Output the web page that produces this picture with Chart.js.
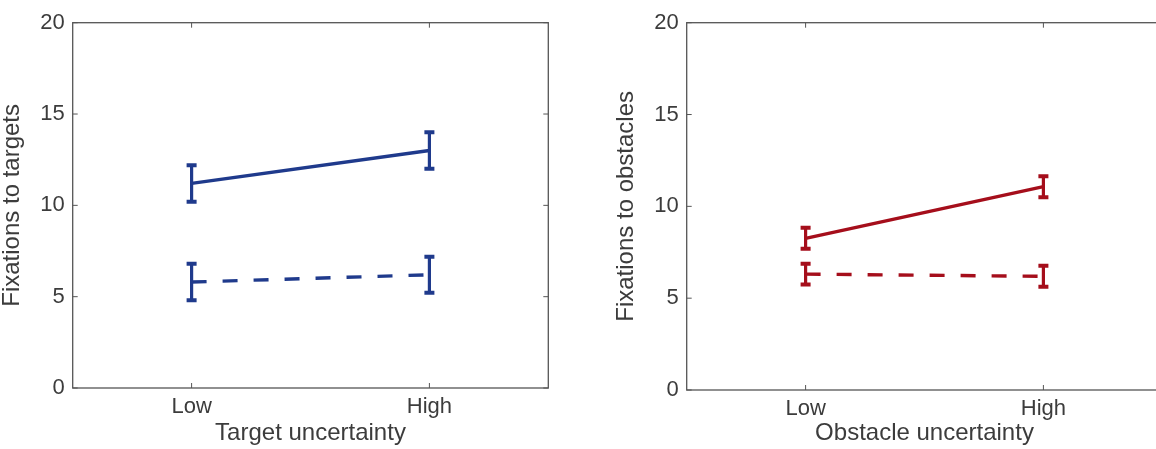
<!DOCTYPE html>
<html><head><meta charset="utf-8">
<script src="https://cdn.jsdelivr.net/npm/chart.js@4.4.0/dist/chart.umd.min.js"></script>
<style>
html,body{margin:0;padding:0;width:1156px;height:449px;overflow:hidden;background:#fff;}
.clip{position:absolute;top:0;left:0;width:1156px;height:449px;overflow:hidden;}
.wrap{position:absolute;top:0;height:449px;width:578px;}
</style></head><body>
<div class="clip">
<div class="wrap" style="left:0"><canvas id="c1"></canvas></div>
<div class="wrap" style="left:614px"><canvas id="c2"></canvas></div>
</div>
<script>
// ---- data ----
const categories = ['Low', 'High'];
const yTicks = [0, 5, 10, 15, 20];
const targetSolid = [11.2, 13.0];
const targetSolidErr = [1.0, 1.0];
const targetDashed = [5.8, 6.2];
const targetDashedErr = [1.0, 0.98];
const obstacleSolid = [8.26, 11.07];
const obstacleSolidErr = [0.57, 0.57];
const obstacleDashed = [6.31, 6.19];
const obstacleDashedErr = [0.57, 0.57];

const BLUE = '#1f3a8c';
const RED = '#a50e1b';
const TEXT = '#3c3c3c';
const AXIS = '#555555';
const FONT = "'Liberation Sans', Arial, Helvetica, sans-serif";

function pts(vals) { return vals.map((v, i) => ({x: i + 1, y: v})); }

const errorBarPlugin = {
  id: 'errbars',
  afterDatasetsDraw(chart) {
    const ctx = chart.ctx, xs = chart.scales.x, ys = chart.scales.y;
    chart.data.datasets.forEach(ds => {
      if (!ds.errors) return;
      ctx.save();
      ctx.strokeStyle = ds.borderColor;
      ctx.lineCap = 'butt';
      ds.data.forEach((p, i) => {
        const e = ds.errors[i];
        const px = xs.getPixelForValue(p.x);
        const y1 = ys.getPixelForValue(p.y + e);
        const y2 = ys.getPixelForValue(p.y - e);
        ctx.lineWidth = 3.2;
        ctx.beginPath();
        ctx.moveTo(px, y1); ctx.lineTo(px, y2);
        ctx.stroke();
        ctx.lineWidth = 4;
        ctx.beginPath();
        ctx.moveTo(px - 5, y1); ctx.lineTo(px + 5, y1);
        ctx.moveTo(px - 5, y2); ctx.lineTo(px + 5, y2);
        ctx.stroke();
      });
      ctx.restore();
    });
  }
};

const framePlugin = {
  id: 'frame',
  afterDraw(chart) {
    const ctx = chart.ctx, a = chart.chartArea, xs = chart.scales.x, ys = chart.scales.y;
    ctx.save();
    ctx.lineWidth = 1.3;
    ctx.strokeStyle = AXIS;
    ctx.strokeRect(a.left, a.top, a.right - a.left, a.bottom - a.top);
    const tl = 5;
    ctx.lineWidth = 1;
    ctx.beginPath();
    yTicks.forEach(v => {
      const py = ys.getPixelForValue(v);
      ctx.moveTo(a.left, py); ctx.lineTo(a.left + tl, py);
      ctx.moveTo(a.right, py); ctx.lineTo(a.right - tl, py);
    });
    categories.forEach((c, i) => {
      const px = xs.getPixelForValue(i + 1);
      ctx.moveTo(px, a.bottom); ctx.lineTo(px, a.bottom - tl);
      ctx.moveTo(px, a.top); ctx.lineTo(px, a.top + tl);
    });
    ctx.stroke();
    ctx.restore();
  }
};

function makeChart(id, color, solid, solidErr, dashed, dashedErr, xTitle, yTitle, xAxisH) {
  return new Chart(document.getElementById(id), {
    type: 'line',
    data: {
      datasets: [
        {data: pts(solid), errors: solidErr, borderColor: color, borderWidth: 3.4, pointRadius: 0, fill: false, tension: 0},
        {data: pts(dashed), errors: dashedErr, borderColor: color, borderWidth: 3.4, borderDash: [15, 16], pointRadius: 0, fill: false, tension: 0}
      ]
    },
    options: {
      responsive: true,
      maintainAspectRatio: false,
      animation: false,
      events: [],
      layout: {padding: {top: 22.7, right: 29.7, left: 0, bottom: 0}},
      plugins: {legend: {display: false}, tooltip: {enabled: false}},
      scales: {
        x: {
          type: 'linear', min: 0.5, max: 2.5,
          afterBuildTicks(s) { s.ticks = categories.map((c, i) => ({value: i + 1})); },
          afterFit(s) { s.height = xAxisH; },
          grid: {display: false, drawTicks: false},
          border: {display: false},
          ticks: {
            padding: 5.5, color: TEXT, font: {family: FONT, size: 22, lineHeight: 1.2},
            maxRotation: 0, autoSkip: false,
            callback: v => categories[Math.round(v) - 1] ?? ''
          },
          title: {display: true, text: xTitle, color: TEXT, font: {family: FONT, size: 24, lineHeight: 1}, padding: {top: 0, bottom: 3.6}}
        },
        y: {
          type: 'linear', min: 0, max: 20,
          afterBuildTicks(s) { s.ticks = yTicks.map(v => ({value: v})); },
          afterFit(s) { s.width = 72.7; },
          grid: {display: false, drawTicks: false},
          border: {display: false},
          ticks: {padding: 8, color: TEXT, font: {family: FONT, size: 22, lineHeight: 1.2}},
          title: {display: true, text: yTitle, color: TEXT, font: {family: FONT, size: 24, lineHeight: 1}, padding: {top: 0.4, bottom: 0}}
        }
      }
    },
    plugins: [errorBarPlugin, framePlugin]
  });
}

makeChart('c1', BLUE, targetSolid, targetSolidErr, targetDashed, targetDashedErr,
  'Target uncertainty', 'Fixations to targets', 61);
makeChart('c2', RED, obstacleSolid, obstacleSolidErr, obstacleDashed, obstacleDashedErr,
  'Obstacle uncertainty', 'Fixations to obstacles', 59);
</script>
</body></html>
